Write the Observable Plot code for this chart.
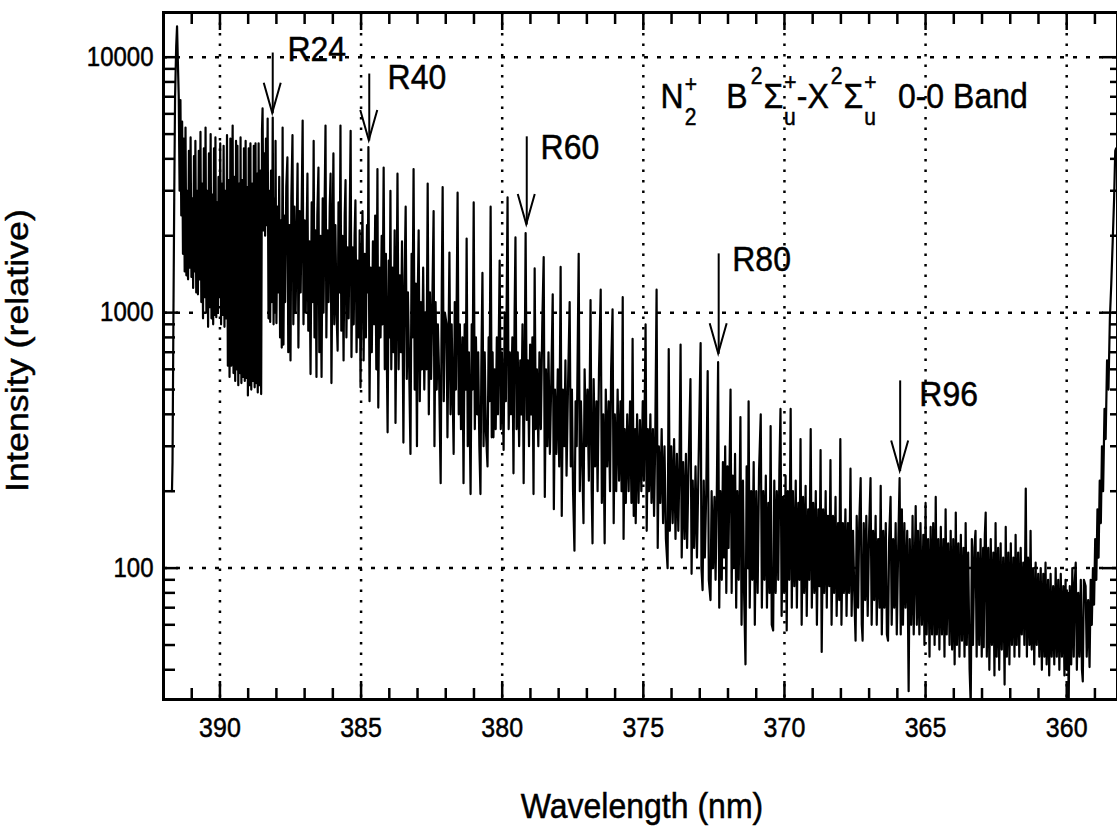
<!DOCTYPE html>
<html>
<head>
<meta charset="utf-8">
<script src="https://cdn.jsdelivr.net/npm/d3@7"></script>
<script src="https://cdn.jsdelivr.net/npm/@observablehq/plot@0.6"></script>
<style>
  html, body { margin: 0; padding: 0; background: #fff; }
  svg { display: block; }
  svg text { stroke: black; stroke-width: 0.45px; }
</style>
</head>
<body>
<div id="chart"></div>
<script>
// ---------------- DATA (wavelength nm, relative intensity) ----------------
const bandHead = [
  [391.70,200],[391.68,260],[391.65,900],[391.62,2800],[391.59,7000],[391.55,11000],
  [391.52,13200],[391.49,9500],[391.46,7000]
];
const denseRegion = [
  [391.43,3000],[391.40,6800],[391.37,2400],[391.34,5600],[391.31,1700],[391.28,4800],
  [391.25,1450],[391.22,5300],[391.19,1400],[391.16,3000],[391.13,1350],[391.10,4300],
  [391.07,1500],[391.04,4850],[391.01,1380],[390.98,2800],[390.95,1250],[390.92,4100],
  [390.89,1450],[390.87,4700],[390.84,1200],[390.81,3000],[390.78,1180],[390.75,4300],
  [390.72,1350],[390.69,5100],[390.66,1100],[390.63,3200],[390.60,950],[390.57,4400],
  [390.54,1150],[390.51,5300],[390.48,1000],[390.45,3000],[390.42,880],[390.39,4200],
  [390.36,1050],[390.33,5000],[390.30,950],[390.27,2900],[390.24,900],[390.21,4400],
  [390.18,980],[390.16,4850],[390.13,960],[390.10,2700],[390.07,1000],[390.05,3400],
  [390.02,1150],[389.99,4600],[389.96,900],[389.93,3200],[389.90,980],[389.87,4500],
  [389.84,880],[389.81,3000],[389.78,950],[389.75,4950],[389.72,620],[389.69,3300],
  [389.66,560],[389.63,4800],[389.60,620],[389.57,3200],[389.55,5400],[389.52,580],
  [389.49,3400],[389.46,540],[389.43,4700],[389.40,600],[389.38,4500],[389.35,520],
  [389.32,3200],[389.29,580],[389.27,4850],[389.24,530],[389.21,3300],[389.18,560],
  [389.15,4400],[389.12,540],[389.09,4700],[389.06,555],[389.03,3100],[389.01,474],
  [388.98,4400],[388.95,520],[388.92,4600],[388.89,500],[388.86,3200],[388.83,540],
  [388.80,4500],[388.77,510],[388.74,4600],[388.71,530],[388.68,3500],[388.66,487],
  [388.63,4600],[388.60,520],[388.57,3600],[388.54,480]
];
const notch = [
  [388.51,5200],[388.49,6300],[388.46,2100],[388.43,4200],[388.40,2000],[388.37,4800],
  [388.34,2200],[388.31,5750],[388.28,950]
];
const branchA = [
  [388.25,3000],[388.22,920],[388.19,3600],[388.16,1100],[388.13,5800],[388.10,900],
  [388.07,2800],[388.05,1000],[388.03,4700],[388.00,910],[387.96,2600],[387.93,1200],
  [387.90,3400],[387.87,800],[387.84,2300],[387.81,730],[387.78,5300],[387.75,750],
  [387.72,2400],[387.69,1100],[387.65,3100],[387.61,4050],[387.58,700],[387.54,2200],
  [387.50,650],[387.47,2800],[387.43,4950],[387.40,900],[387.36,2600],[387.32,1000],
  [387.28,2100],[387.25,3830],[387.22,730],[387.18,2500],[387.14,1200],[387.10,2900],
  [387.07,5650],[387.04,900],[387.00,2300],[386.96,1000],[386.93,2000],[386.90,3500],
  [386.87,850],[386.83,1900],[386.79,575],[386.75,2700],[386.71,1100],[386.68,4700],
  [386.65,800],[386.62,2100],[386.58,560],[386.55,2400],[386.51,3700],[386.48,700],
  [386.44,2000],[386.40,560],[386.36,2800],[386.33,1000],[386.30,2200],[386.26,5400],
  [386.23,800],[386.19,2100],[386.15,1100],[386.11,2600],[386.08,3500],[386.05,530],
  [386.01,1900],[385.98,4200],[385.95,900],[385.91,2200],[385.87,1000],[385.83,710],
  [385.80,2700],[385.76,1200],[385.73,5400],[385.70,850],[385.66,2000],[385.62,650],
  [385.58,2400],[385.55,3300],[385.52,800],[385.48,1800],[385.44,950],[385.40,2500],
  [385.37,5150],[385.34,670],[385.30,1800],[385.26,900],[385.23,2000],[385.20,2750],
  [385.16,700],[385.12,1600],[385.08,800],[385.05,2100],[385.02,510],[384.98,1500],
  [384.95,2500],[384.91,650],[384.87,1700],[384.83,800],[384.79,2200],[384.76,1200],
  [384.74,4450]
];
const branchB = [
  [384.70,450],[384.66,1500],[384.62,700],[384.58,1900],[384.54,900],[384.50,2400],
  [384.46,600],[384.42,3650],[384.39,425],[384.35,1500],[384.31,800],[384.27,2000],
  [384.24,900],[384.20,3700],[384.16,600],[384.12,1700],[384.09,700],[384.06,340],
  [384.02,1600],[383.99,800],[383.96,3000],[383.93,600],[383.89,1500],[383.85,700],
  [383.81,2100],[383.78,370],[383.74,1200],[383.71,3500],[383.67,600],[383.63,1400],
  [383.59,700],[383.55,1900],[383.50,310],[383.46,1300],[383.42,2600],[383.38,550],
  [383.34,1200],[383.30,650],[383.25,280],[383.21,1700],[383.18,800],[383.14,3650],
  [383.10,500],[383.06,1300],[383.02,300],[382.99,1200],[382.96,2100],[382.92,450],
  [382.88,1100],[382.84,600],[382.80,1500],[382.76,500],[382.72,1000],[382.68,600],
  [382.64,3200],[382.60,400],[382.56,1200],[382.52,550],[382.48,1000],[382.43,2500],
  [382.40,300],[382.36,1100],[382.32,500],[382.28,900],[382.24,600],[382.18,215],
  [382.14,1300],[382.11,3100],[382.07,450],[382.03,1000],[381.97,900],[381.94,325],
  [381.90,800],[381.87,1720],[381.83,400],[381.79,900],[381.75,450],[381.72,280],
  [381.68,1100],[381.64,500],[381.58,2950],[381.54,400],[381.50,900],[381.46,350],
  [381.41,800],[381.37,215],[381.33,900],[381.29,500],[381.26,1950],[381.22,300],
  [381.18,700],[381.12,195],[381.08,900],[381.05,500],[381.01,2700],[380.97,350],
  [380.93,800],[380.89,400],[380.85,700],[380.81,300],[380.77,195],[380.74,600],
  [380.70,1430],[380.66,300],[380.62,700],[380.58,350],[380.52,250],[380.48,800],
  [380.45,450],[380.41,2600],[380.37,325],[380.34,700],[380.31,325],[380.27,600],
  [380.23,350],[380.19,800],[380.15,400],[380.09,1600],[380.05,350],[380.01,700],
  [379.95,290],[379.91,1000],[379.87,450],[379.81,2830],[379.77,350],[379.73,700],
  [379.69,400],[379.64,800],[379.60,235],[379.56,1000],[379.53,1970],[379.49,350],
  [379.45,700],[379.40,300],[379.36,650],[379.32,400],[379.28,900],[379.24,215],
  [379.20,700],[379.17,2050],[379.13,380],[379.09,650],[379.05,300],[379.01,750],
  [378.97,400],[378.93,800],[378.89,195],[378.85,1490],[378.81,350],[378.77,600],
  [378.72,300],[378.68,700],[378.63,350],[378.58,900],[378.53,1650],[378.49,190],
  [378.45,600],[378.40,300],[378.36,700],[378.31,280],[378.26,550],[378.21,1180],
  [378.17,170],[378.13,500],[378.08,280],[378.03,600],[377.98,250],[377.93,1510]
];
const branchC = [
  [377.89,160],[377.85,500],[377.80,300],[377.76,650],[377.72,230],[377.67,500],
  [377.61,1100],[377.57,250],[377.53,500],[377.49,200],[377.44,117],[377.40,450],
  [377.36,300],[377.29,1700],[377.25,200],[377.21,450],[377.16,250],[377.12,150],
  [377.08,600],[377.03,300],[376.98,500],[376.93,220],[376.87,1120],[376.83,200],
  [376.80,125],[376.76,550],[376.71,250],[376.66,450],[376.62,200],[376.57,600],
  [376.51,1230],[376.47,180],[376.42,400],[376.37,125],[376.33,500],[376.28,250],
  [376.23,450],[376.18,200],[376.14,600],[376.09,1030],[376.05,150],[376.01,400],
  [375.96,200],[375.91,500],[375.86,220],[375.81,450],[375.77,200],[375.73,1150],
  [375.70,130],[375.66,350],[375.62,180],[375.57,400],[375.52,200],[375.47,450],
  [375.42,180],[375.38,790],[375.34,160],[375.29,350],[375.27,150],[375.22,400],
  [375.17,180],[375.12,380],[375.07,200],[375.02,450],[374.98,220],[374.92,900],
  [374.88,140],[374.84,350],[374.80,200],[374.75,400],[374.71,180],[374.66,350],
  [374.62,160],[374.58,300],[374.53,1230],[374.49,120],[374.45,300],[374.40,180],
  [374.35,350],[374.30,150],[374.25,300],[374.20,130],[374.14,100],[374.10,720],
  [374.06,140],[374.01,300],[373.96,150],[373.91,320],[373.86,130],[373.81,280],
  [373.76,140],[373.72,250],[373.68,750],[373.64,110],[373.59,260],[373.54,130],
  [373.49,280],[373.45,120],[373.40,240],[373.33,550],[373.29,95],[373.25,220],
  [373.20,120],[373.15,250],[373.10,110],[373.05,230],[372.97,760],[372.94,100],
  [372.90,82],[372.86,220],[372.82,110],[372.77,200],[372.72,590],[372.68,90],
  [372.62,75],[372.58,200],[372.53,100],[372.48,190],[372.44,90],[372.40,180],
  [372.35,640],[372.31,70]
];
const branchD = [
  [372.27,200],[372.22,90],[372.18,260],[372.14,110],[372.10,300],[372.06,80],
  [372.02,250],[371.98,120],[371.91,500],[371.87,80],[371.83,230],[371.79,100],
  [371.75,280],[371.71,70],[371.67,200],[371.62,90],[371.56,390],[371.52,60],
  [371.47,220],[371.43,80],[371.38,42],[371.34,250],[371.30,100],[371.27,450],
  [371.23,70],[371.18,200],[371.14,90],[371.09,260],[371.05,60],[371.00,200],
  [370.95,80],[370.90,240],[370.84,400],[370.80,70],[370.75,200],[370.71,90],
  [370.66,230],[370.62,70],[370.57,180],[370.53,80],[370.49,360],[370.45,60],
  [370.40,57],[370.36,220],[370.31,80],[370.27,200],[370.22,90],[370.18,240],
  [370.14,420],[370.10,65],[370.05,190],[370.01,80],[369.96,230],[369.92,57],
  [369.88,200],[369.83,90],[369.78,420],[369.74,70],[369.70,200],[369.65,85],
  [369.60,220],[369.56,70],[369.51,180],[369.47,90],[369.43,320],[369.39,60],
  [369.34,190],[369.30,80],[369.25,210],[369.21,65],[369.16,170],[369.12,90],
  [369.07,350],[369.03,70],[368.98,180],[368.94,80],[368.89,200],[368.85,60],
  [368.80,170],[368.76,85],[368.72,290],[368.68,47],[368.63,170],[368.59,80],
  [368.54,200],[368.50,70],[368.46,160],[368.41,85],[368.37,265],[368.33,60],
  [368.28,160],[368.24,80],[368.19,190],[368.15,65],[368.10,150],[368.06,75],
  [368.02,320],[367.98,60],[367.93,150],[367.89,80],[367.84,170],[367.80,65],
  [367.75,150],[367.71,80],[367.66,245],[367.62,65],[367.57,140],[367.52,75],
  [367.48,52],[367.44,160],[367.39,70],[367.35,150],[367.30,225],[367.26,60],
  [367.23,52],[367.19,150],[367.14,75],[367.10,160],[367.05,65],[367.00,140],
  [366.95,225],[366.91,60],[366.86,140],[366.82,75],[366.77,160],[366.73,60],
  [366.68,130],[366.63,70],[366.59,210],[366.55,55],[366.50,140],[366.46,70],
  [366.41,150],[366.37,55],[366.33,52],[366.29,130],[366.24,190],[366.20,60],
  [366.15,130],[366.11,70],[366.06,150],[366.02,55],[365.97,120],[365.92,225],
  [365.88,55]
];
const tail = [
  [365.84,170],[365.80,60],[365.75,150],[365.71,70],[365.65,140],[365.60,33],
  [365.56,130],[365.51,60],[365.46,160],[365.42,55],[365.35,175],[365.31,60],
  [365.27,140],[365.22,55],[365.18,150],[365.13,60],[365.08,135],[365.04,50],
  [365.00,180],[364.96,55],[364.91,130],[364.86,45],[364.82,145],[364.77,55],
  [364.73,150],[364.68,50],[364.64,190],[364.60,55],[364.55,130],[364.51,48],
  [364.46,145],[364.42,55],[364.37,130],[364.33,45],[364.29,170],[364.25,55],
  [364.20,125],[364.15,50],[364.11,140],[364.06,48],[364.02,130],[363.97,42],
  [363.93,165],[363.89,50],[363.84,125],[363.80,45],[363.75,135],[363.71,52],
  [363.66,120],[363.62,45],[363.58,150],[363.54,50],[363.49,115],[363.44,40],
  [363.40,29],[363.36,130],[363.32,50],[363.27,120],[363.23,140],[363.19,45],
  [363.14,115],[363.10,50],[363.05,130],[363.01,45],[362.96,120],[362.94,49],
  [362.90,135],[362.87,165],[362.83,45],[362.78,120],[362.74,40],[362.69,130],
  [362.65,50],[362.60,115],[362.56,38],[362.52,150],[362.48,45],[362.43,120],
  [362.39,40],[362.34,125],[362.30,48],[362.25,110],[362.20,35],[362.16,145],
  [362.12,45],[362.07,115],[362.03,42],[361.98,125],[361.94,50],[361.89,110],
  [361.85,45],[361.81,135],[361.77,50],[361.72,115],[361.68,45],[361.63,120],
  [361.59,55],[361.54,105],[361.50,50],[361.45,205],[361.41,45],[361.37,110],
  [361.32,50],[361.28,140],[361.24,48],[361.19,100],[361.15,42],[361.10,105],
  [361.06,50],[361.01,95],[360.97,45],[360.92,100],[360.88,40],[360.83,95],
  [360.79,45],[360.75,105],[360.71,42],[360.66,90],[360.62,38],[360.57,95],
  [360.53,45],[360.48,85],[360.44,42],[360.39,100],[360.35,45],[360.30,90],
  [360.26,40],[360.21,95],[360.17,45],[360.12,85],[360.08,38],[360.04,90],
  [360.00,40],[359.96,80],[359.93,29],[359.89,85],[359.84,42],[359.80,100],
  [359.75,45],[359.72,85],[359.68,105],[359.64,40],[359.59,80],[359.55,45],
  [359.50,90],[359.46,40],[359.43,36],[359.39,90],[359.33,85],[359.29,45],
  [359.24,75],[359.19,41],[359.15,90]
];
const edgeRise = [
  [359.11,60],[359.07,100],[359.03,72],[358.99,130],[358.95,90],[358.91,170],
  [358.87,110],[358.83,220],[358.79,150],[358.75,300],[358.71,200],[358.66,420],
  [358.62,320],[358.57,650],[358.52,500],[358.47,950],[358.42,1300],[358.37,1900],
  [358.32,2800],[358.28,4300],[358.25,4400]
];

// annotations
const lineLabels = ["R24", "R40", "R60", "R80", "R96"];
const arrowWl    = [388.13, 384.71, 379.13, 372.33, 365.90];
const arrowTop   = [10430, 8630, 4900, 1706, 543];
const arrowTip   = [6030, 4720, 2213, 690, 240];
const labelWl    = [387.61, 384.06, 378.64, 371.85, 365.22];
const labelValue = [10720, 8330, 4430, 1616, 480];

// ticks
const xTickLabels = [390, 385, 380, 375, 370, 365, 360];
const xMinorTicks = [391, 389, 388, 387, 386, 384, 383, 382, 381, 379, 378, 377, 376,
                     374, 373, 372, 371, 369, 368, 367, 366, 364, 363, 362, 361, 359];
const yTickLabels = [100, 1000, 10000];
const yMinorTicks = [40, 50, 60, 70, 80, 90, 200, 300, 400, 500, 600, 700, 800, 900,
                     2000, 3000, 4000, 5000, 6000, 7000, 8000, 9000];

const xTitle = "Wavelength (nm)";
const yTitle = "Intensity (relative)";
const bandTitleAt = {wl: 374.37, value: 6353};

// ---------------- CHART ----------------
const FONT = "'Liberation Sans', Arial, Helvetica, sans-serif";
const W = 1117, H = 826;
const M = {top: 12, right: 0, bottom: 127, left: 163};
const frameW = W - M.left - M.right;
const frameH = H - M.top - M.bottom;
const TEXT_STRETCH = 1.12;   // glyphs in the reference are slightly taller than wide

const spectrum = [...bandHead, ...denseRegion, ...notch, ...branchA, ...branchB,
                  ...branchC, ...branchD, ...tail, ...edgeRise].map(([wl, v]) => ({wl, v}));
const arrows = lineLabels.map((name, i) => ({name, wl: arrowWl[i], top: arrowTop[i], tip: arrowTip[i],
                                             lwl: labelWl[i], lv: labelValue[i]}));

function decorations(index, scales) {
  const sx = scales.x, sy = scales.y;
  const g = d3.create("svg:g").attr("font-family", FONT).attr("fill", "black");
  // arrow heads (open V)
  for (const a of arrows) {
    const px = sx(a.wl), py = sy(a.tip);
    g.append("path")
      .attr("d", `M${px - 8.5},${py - 30}L${px},${py}L${px + 8.5},${py - 30}`)
      .attr("fill", "none").attr("stroke", "black").attr("stroke-width", 2);
  }
  // band title with stacked super/subscripts
  const t = g.append("text").attr("x", sx(bandTitleAt.wl)).attr("y", sy(bandTitleAt.value))
    .attr("text-anchor", "start").attr("font-size", 32);
  const parts = [
    ["N", 32, 0, 0], ["+", 21, 1, -15], ["2", 21, -12.3, 30],
    ["B", 32, 30, -15], ["2", 21, 3, -22], ["\u03A3", 32, 1, 22], ["+", 21, 1, -16], ["u", 21, -12.3, 31],
    ["-X", 32, 1, -15], ["2", 21, 2, -22], ["\u03A3", 32, 1, 22], ["+", 21, 1, -16], ["u", 21, -12.3, 31],
    ["0-0 Band", 32, 22, -15]
  ];
  for (const [s, fs, dx, dy] of parts) {
    t.append("tspan").attr("font-size", fs).attr("dx", dx).attr("dy", dy).text(s);
  }
  // axis titles
  g.append("text").attr("x", M.left + frameW / 2 + 2).attr("y", H - 9)
    .attr("text-anchor", "middle").attr("font-size", 32).text(xTitle);
  g.append("text").attr("transform", `translate(28,${M.top + frameH / 2 - 5}) rotate(-90)`)
    .attr("text-anchor", "middle").attr("font-size", 32).text(yTitle);
  return g.node();
}

const chart = Plot.plot({
  width: W, height: H,
  marginTop: M.top, marginRight: M.right, marginBottom: M.bottom, marginLeft: M.left,
  style: {background: "white", color: "black", fontFamily: FONT},
  x: {type: "linear", domain: [392.0, 358.2]},
  y: {type: "log", domain: [30.6, 14960]},
  marks: [
    // dotted grid
    Plot.ruleX(xTickLabels, {x: d => d, stroke: "black", strokeWidth: 2.5, strokeDasharray: "2.5,8"}),
    Plot.ruleY(yTickLabels, {y: d => d, stroke: "black", strokeWidth: 2.5, strokeDasharray: "4,9"}),
    // spectrum
    Plot.line(spectrum, {x: "wl", y: "v", stroke: "black", strokeWidth: 2.2, strokeLinejoin: "round", clip: true}),
    // inward ticks
    Plot.ruleX(xTickLabels, {x: d => d, insetTop: frameH - 18, strokeWidth: 2.5}),
    Plot.ruleX(xMinorTicks, {x: d => d, insetTop: frameH - 11, strokeWidth: 2.5}),
    Plot.ruleX(xTickLabels, {x: d => d, insetBottom: frameH - 18, strokeWidth: 2.5}),
    Plot.ruleX(xMinorTicks, {x: d => d, insetBottom: frameH - 12, strokeWidth: 2.5}),
    Plot.ruleY(yTickLabels, {y: d => d, insetRight: frameW - 15, strokeWidth: 2.5}),
    Plot.ruleY(yMinorTicks, {y: d => d, insetRight: frameW - 12, strokeWidth: 2.5}),
    Plot.ruleY(yTickLabels, {y: d => d, insetLeft: frameW - 15, strokeWidth: 2.5}),
    Plot.ruleY(yMinorTicks, {y: d => d, insetLeft: frameW - 7, strokeWidth: 2.5}),
    Plot.frame({stroke: "black", strokeWidth: 3}),
    // tick labels
    Plot.axisX(xTickLabels, {anchor: "bottom", tickSize: 0, tickPadding: 19, fontSize: 25, label: null,
                             tickFormat: d => String(d)}),
    Plot.axisY(yTickLabels, {anchor: "left", tickSize: 0, tickPadding: 10, fontSize: 24, label: null,
                             tickFormat: d => String(d)}),
    // arrows + labels
    Plot.link(arrows, {x1: "wl", x2: "wl", y1: "top", y2: "tip", stroke: "black", strokeWidth: 2}),
    Plot.text(arrows, {x: "lwl", y: "lv", text: "name", textAnchor: "start", lineAnchor: "middle",
                       fontSize: 32, fill: "black"}),
    decorations
  ]
});
document.getElementById("chart").appendChild(chart);

// stretch every text vertically about its own centre (matches the taller glyphs of the reference)
try {
  const svgRoot = chart.tagName.toLowerCase() === "svg" ? chart : chart.querySelector("svg");
  const texts = Array.from(svgRoot.querySelectorAll("text"));
  const boxes = texts.map(el => el.getBoundingClientRect());
  texts.forEach((el, i) => {
    const r = boxes[i];
    const parent = el.parentNode;
    const ctm = parent.getScreenCTM();
    if (!ctm || !r.height) return;
    const pt = svgRoot.createSVGPoint();
    pt.x = r.left + r.width / 2; pt.y = r.top + r.height / 2;
    const p = pt.matrixTransform(ctm.inverse());
    const wrap = document.createElementNS("http://www.w3.org/2000/svg", "g");
    wrap.setAttribute("transform", `translate(0,${p.y}) scale(1,${TEXT_STRETCH}) translate(0,${-p.y})`);
    parent.insertBefore(wrap, el);
    wrap.appendChild(el);
  });
} catch (e) { console.error(e); }
</script>
</body>
</html>
